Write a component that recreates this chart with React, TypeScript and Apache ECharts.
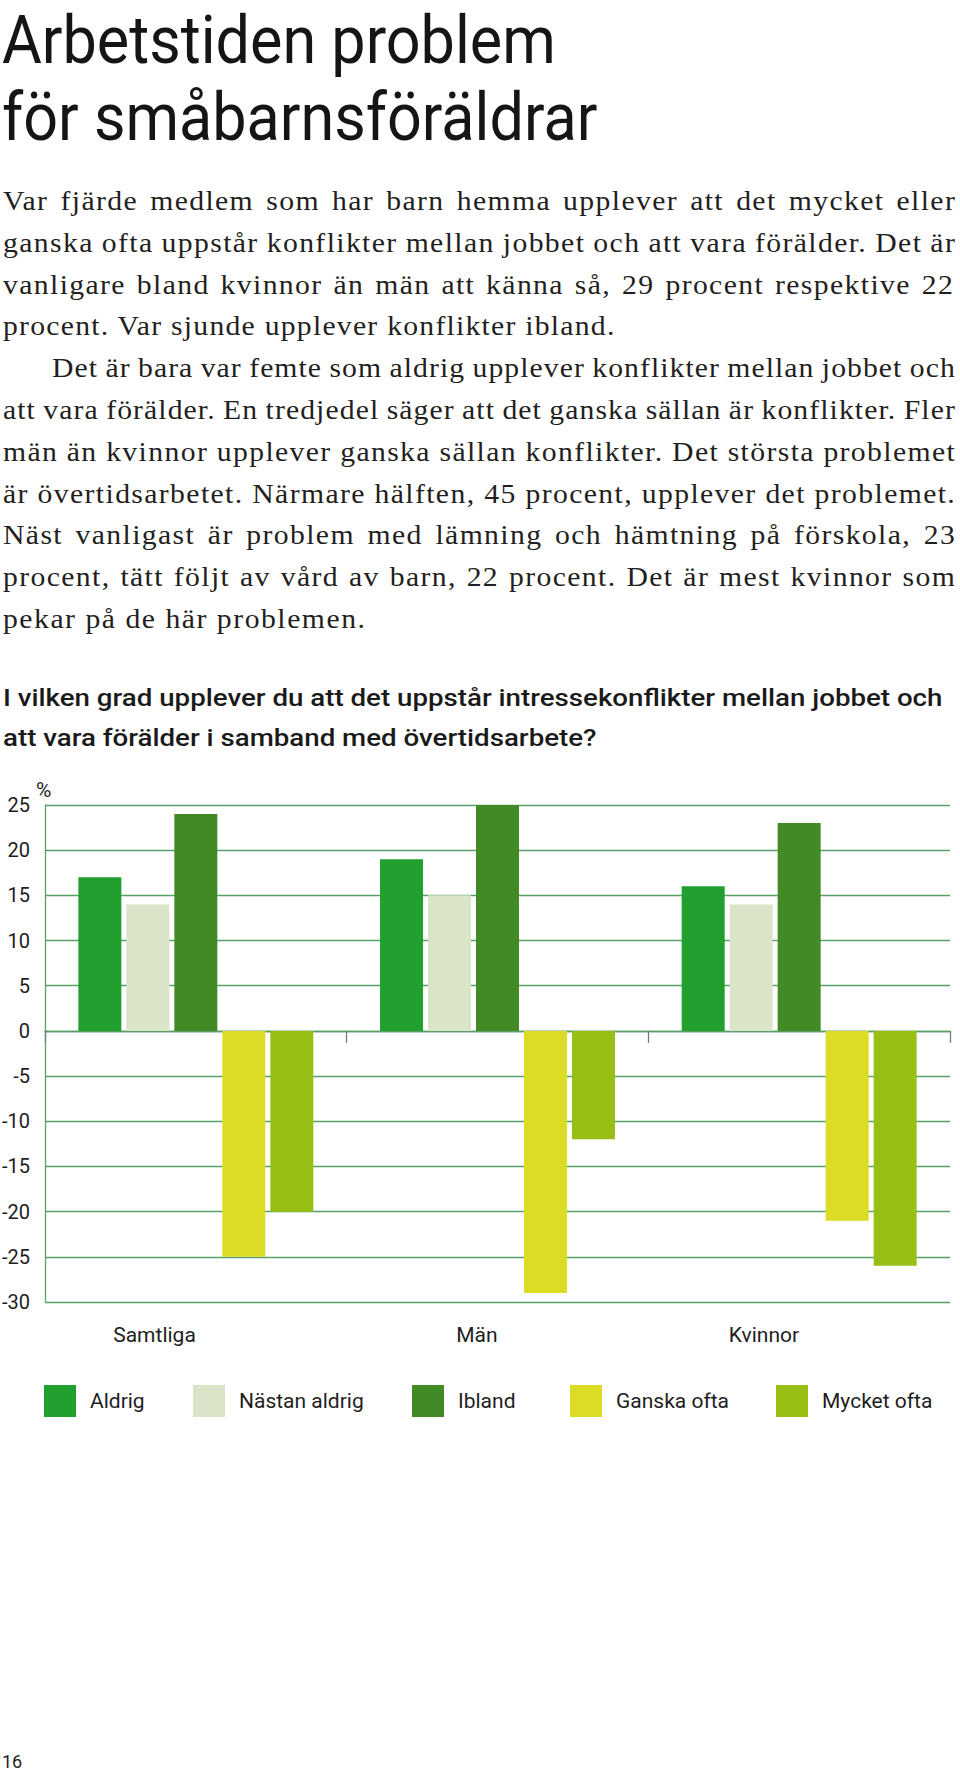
import React, { useEffect, useMemo, useRef } from "react";
import * as echarts from "echarts";

// ---------------- DATA ----------------
const categories = ["Samtliga", "Män", "Kvinnor"];
const seriesNames = ["Aldrig", "Nästan aldrig", "Ibland", "Ganska ofta", "Mycket ofta"];
const aldrig = [17, 19, 16];
const nastanAldrig = [14, 15, 14];
const ibland = [24, 25, 23];
const ganskaOfta = [-25, -29, -21];
const mycketOfta = [-20, -12, -26];
const seriesValues = [aldrig, nastanAldrig, ibland, ganskaOfta, mycketOfta];
const yMin = -30;
const yMax = 25;
const yStep = 5;
const unitLabel = "%";

const headingLines = ["Arbetstiden problem", "för småbarnsföräldrar"];
const bodyLines = [
  "Var fjärde medlem som har barn hemma upplever att det mycket eller",
  "ganska ofta uppstår konflikter mellan jobbet och att vara förälder. Det är",
  "vanligare bland kvinnor än män att känna så, 29 procent respektive 22",
  "procent. Var sjunde upplever konflikter ibland.",
  "Det är bara var femte som aldrig upplever konflikter mellan jobbet och",
  "att vara förälder. En tredjedel säger att det ganska sällan är konflikter. Fler",
  "män än kvinnor upplever ganska sällan konflikter. Det största problemet",
  "är övertidsarbetet. Närmare hälften, 45 procent, upplever det problemet.",
  "Näst vanligast är problem med lämning och hämtning på förskola, 23",
  "procent, tätt följt av vård av barn, 22 procent. Det är mest kvinnor som",
  "pekar på de här problemen.",
];
const questionLines = [
  "I vilken grad upplever du att det uppstår intressekonflikter mellan jobbet och",
  "att vara förälder i samband med övertidsarbete?",
];
const pageNumber = "16";

// ---------------- STYLE / LAYOUT ----------------
const seriesColors = ["#21a02f", "#d9e4c9", "#428a25", "#dcdc25", "#98bf14"];
const GRID_COLOR = "#5a9f66";
const TICK_COLOR = "#6f7f72";
const TEXT_DARK = "#1e1e1e";

const bodyBox: [number, number][] = [
  [3, 955], [3, 955], [3, 953], [3, 615], [52, 955], [3, 955],
  [3, 955], [3, 955], [3, 955], [3, 955], [3, 365],
];
const bodyJustified = [true, true, true, false, true, true, true, true, true, true, false];
const BODY_SIZE = 27;
const BODY_SCALE = 1.1;
const BODY_BASE = 210;
const BODY_STEP = 41.8;

const HEAD_SIZE = 67;
const headBase = [62.5, 140];
const headTargets = [557, 592];

const Q_SIZE = 23;
const qBase = [705.5, 745.5];
const Q_TARGET = 940;

const legendLefts = [44, 193, 412, 570, 776];

let _cv: HTMLCanvasElement | null = null;
function metrics(text: string, font: string) {
  if (!_cv) _cv = document.createElement("canvas");
  const ctx = _cv.getContext("2d")!;
  ctx.font = font;
  return ctx.measureText(text);
}

function buildBody() {
  const font = `${BODY_SIZE}px "Liberation Serif"`;
  const infos = bodyLines.map((t, i) => {
    const w = metrics(t, font).width;
    const n = Array.from(t).length;
    const k = t.split(" ").length - 1;
    const [l, r] = bodyBox[i];
    return { t, w, n, k, l, target: (r - l) / BODY_SCALE, j: bodyJustified[i] };
  });
  const free = infos.filter((x) => !x.j).map((x) => (x.target - x.w) / (x.n - 1));
  const ls0 = free.reduce((a, b) => a + b, 0) / free.length;
  return infos.map((x, i) => {
    let ls = ls0;
    let ws = 0;
    if (!x.j) {
      ls = (x.target - x.w) / (x.n - 1);
    } else {
      ws = (x.target - x.w - (x.n - 1) * ls) / x.k;
      if (ws < -1) {
        ws = -1;
        ls = (x.target - x.w - x.k * ws) / (x.n - 1);
      }
    }
    return { ...x, ls, ws, y: BODY_BASE + i * BODY_STEP };
  });
}

function buildHead() {
  const font = `400 ${HEAD_SIZE}px Roboto`;
  const scales = headingLines.map((t, i) => headTargets[i] / metrics(t, font).width);
  const s = (scales[0] + scales[1]) / 2;
  return headingLines.map((t, i) => ({ t, s, y: headBase[i] }));
}

export default function App() {
  const ref = useRef<HTMLDivElement>(null);
  const body = useMemo(() => buildBody(), []);
  const head = useMemo(() => buildHead(), []);

  useEffect(() => {
    if (!ref.current) return;
    const chart = echarts.init(ref.current, null, { renderer: "svg" });

    const qFont = `500 ${Q_SIZE}px Roboto`;
    const qm = metrics(questionLines[0], qFont);
    const qScale = Q_TARGET / qm.width;
    const qOff =
      qm.fontBoundingBoxAscent !== undefined
        ? (qm.fontBoundingBoxAscent - qm.fontBoundingBoxDescent) / 2
        : 0.3415 * Q_SIZE;

    const option: any = {
      animation: false,
      backgroundColor: "#ffffff",
      grid: { left: 45, right: 10, top: 805, bottom: 470, containLabel: false, outerBoundsMode: "none" },
      xAxis: [
        {
          type: "category",
          data: categories,
          position: "bottom",
          boundaryGap: true,
          axisLine: { show: true, onZero: true, lineStyle: { color: GRID_COLOR, width: 1.3 } },
          axisTick: { show: true, length: 12, inside: false, lineStyle: { color: TICK_COLOR, width: 1.3 } },
          axisLabel: { show: false },
          splitLine: { show: false },
        },
        {
          type: "category",
          data: categories,
          position: "bottom",
          axisLine: { show: false, onZero: false },
          axisTick: { show: false },
          axisLabel: {
            show: true,
            margin: 22,
            align: "right",
            fontSize: 21,
            fontFamily: "Roboto",
            color: TEXT_DARK,
          },
          splitLine: { show: false },
        },
      ],
      yAxis: {
        type: "value",
        min: yMin,
        max: yMax,
        interval: yStep,
        axisLine: { show: true, onZero: false, lineStyle: { color: GRID_COLOR, width: 1.3 } },
        axisTick: { show: false },
        splitLine: { show: true, lineStyle: { color: GRID_COLOR, width: 1.3 } },
        axisLabel: { margin: 15, fontSize: 20, fontFamily: "Roboto", color: TEXT_DARK },
      },
      legend: seriesNames.map((n, i) => ({
        data: [n],
        left: legendLefts[i],
        top: 1385,
        padding: 0,
        itemWidth: 32,
        itemHeight: 32,
        icon: "rect",
        selectedMode: false,
        textStyle: { fontSize: 21, fontFamily: "Roboto", color: TEXT_DARK, padding: [0, 0, 0, 9] },
      })),
      series: seriesNames.map((n, i) => ({
        type: "bar",
        name: n,
        data: seriesValues[i],
        barWidth: 43,
        barGap: "11.6%",
        itemStyle: { color: seriesColors[i] },
      })),
      graphic: [
        ...questionLines.map((t, i) => ({
          type: "text",
          x: 3,
          y: qBase[i] - qOff,
          scaleX: qScale,
          silent: true,
          style: {
            text: t,
            fill: "#1a1a1a",
            fontSize: Q_SIZE,
            fontWeight: 500,
            fontFamily: "Roboto",
            align: "left",
            verticalAlign: "middle",
            textAlign: "left",
            textVerticalAlign: "middle",
          },
        })),
        {
          type: "text",
          x: 36,
          y: 790,
          silent: true,
          style: {
            text: unitLabel,
            fill: TEXT_DARK,
            fontSize: 21,
            fontFamily: "Roboto",
            align: "left",
            verticalAlign: "middle",
            textAlign: "left",
            textVerticalAlign: "middle",
          },
        },
      ],
    };
    chart.setOption(option);
    return () => chart.dispose();
  }, []);

  return (
    <div style={{ position: "absolute", left: 0, top: 0, width: 960, height: 1772, background: "#fff", overflow: "hidden" }}>
      <div ref={ref} style={{ position: "absolute", left: 0, top: 0, width: 960, height: 1772 }} />
      <svg
        width={960}
        height={1772}
        style={{ position: "absolute", left: 0, top: 0, pointerEvents: "none" }}
      >
        {head.map((h, i) => (
          <text
            key={"h" + i}
            transform={`translate(2,${h.y}) scale(${h.s},1)`}
            x={0}
            y={0}
            fontFamily="Roboto"
            fontWeight={400}
            fontSize={HEAD_SIZE}
            fill="#151515"
          >
            {h.t}
          </text>
        ))}
        {body.map((b, i) => (
          <text
            key={"b" + i}
            transform={`translate(${b.l},${b.y}) scale(${BODY_SCALE},1)`}
            x={0}
            y={0}
            fontFamily='"Liberation Serif", serif'
            fontSize={BODY_SIZE}
            fill="#231f20"
            style={{ letterSpacing: `${b.ls}px`, wordSpacing: `${b.ws}px` }}
          >
            {b.t}
          </text>
        ))}
        <text x={2} y={1768} fontFamily="Roboto" fontSize={18} fill={TEXT_DARK}>
          {pageNumber}
        </text>
      </svg>
    </div>
  );
}
